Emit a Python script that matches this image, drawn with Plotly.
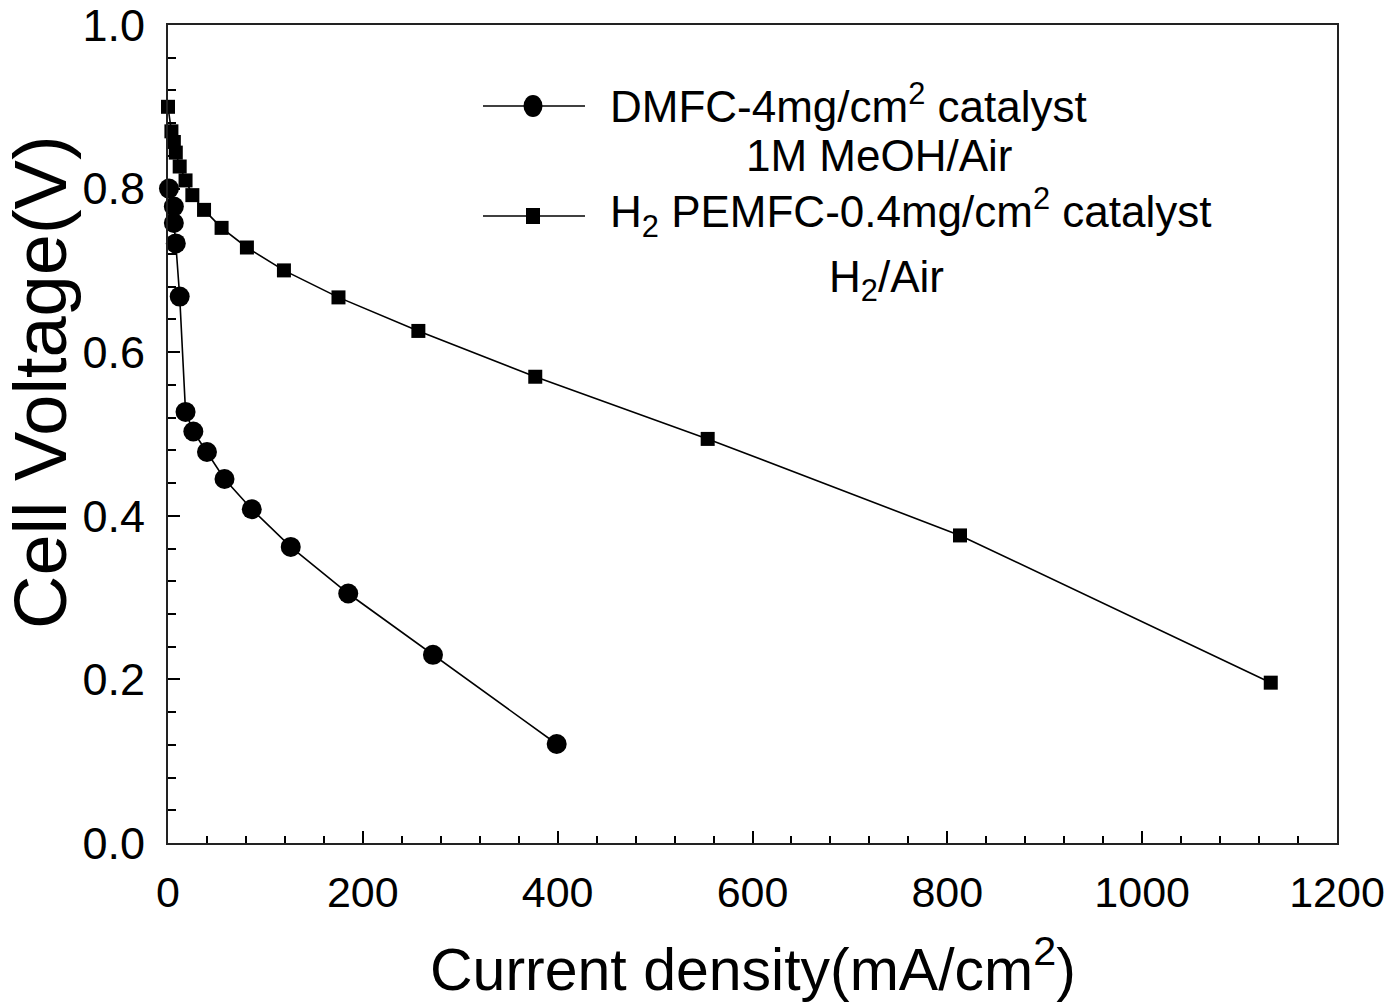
import plotly.graph_objects as go

# DMFC data (circles)
dmfc_x = [1, 6, 6, 8, 12, 18, 26, 40, 58, 86, 126, 185, 272, 399]
dmfc_y = [0.800, 0.778, 0.758, 0.733, 0.668, 0.527, 0.503, 0.478, 0.445, 0.408, 0.362, 0.305, 0.230, 0.121]

# H2 PEMFC data (squares)
pem_x = [0, 3.5, 6, 8, 12, 18, 25, 37, 55, 81, 119, 175, 257, 377, 554, 813, 1132]
pem_y = [0.900, 0.870, 0.857, 0.844, 0.827, 0.810, 0.792, 0.774, 0.752, 0.728, 0.700, 0.667, 0.626, 0.570, 0.494, 0.376, 0.196]

x_ticks = [0, 200, 400, 600, 800, 1000, 1200]
y_ticks = [0.0, 0.2, 0.4, 0.6, 0.8, 1.0]
y_tick_labels = ["0.0", "0.2", "0.4", "0.6", "0.8", "1.0"]

legend_names = ["DMFC-4mg/cm<sup>2</sup> catalyst", "H<sub>2</sub> PEMFC-0.4mg/cm<sup>2</sup> catalyst"]
legend_sub = ["1M MeOH/Air", "H<sub>2</sub>/Air"]

FONT = "Liberation Sans, Arial, sans-serif"

W, H = 1391, 1004
L, R, T, B = 168, 54, 25, 161
pw = W - L - R
ph = H - T - B


def px2x(px):
    return (px - L) / pw


def px2y(py):
    return (H - B - py) / ph


fig = go.Figure()
fig.add_trace(go.Scatter(x=dmfc_x, y=dmfc_y, mode="lines+markers",
                         line=dict(color="black", width=1.6),
                         marker=dict(symbol="circle", size=20, color="black"),
                         cliponaxis=False, showlegend=False))
fig.add_trace(go.Scatter(x=pem_x, y=pem_y, mode="lines+markers",
                         line=dict(color="black", width=1.6),
                         marker=dict(symbol="square", size=14, color="black"),
                         cliponaxis=False, showlegend=False))

shapes = []
annotations = []
# legend entry 1
ly1 = px2y(106)
shapes.append(dict(type="line", xref="paper", yref="paper", x0=px2x(483), x1=px2x(585), y0=ly1, y1=ly1,
                   line=dict(color="black", width=1.6)))
cx = px2x(533)
shapes.append(dict(type="circle", xref="paper", yref="paper", x0=cx - 9.5 / pw, x1=cx + 9.5 / pw,
                   y0=ly1 - 11 / ph, y1=ly1 + 11 / ph, fillcolor="black", line=dict(color="black", width=0)))
# legend entry 2
ly2 = px2y(216)
shapes.append(dict(type="line", xref="paper", yref="paper", x0=px2x(483), x1=px2x(585), y0=ly2, y1=ly2,
                   line=dict(color="black", width=1.6)))
shapes.append(dict(type="rect", xref="paper", yref="paper", x0=cx - 7 / pw, x1=cx + 7 / pw,
                   y0=ly2 - 8 / ph, y1=ly2 + 8 / ph, fillcolor="black", line=dict(color="black", width=0)))

lf = dict(family=FONT, size=44, color="black")
annotations.append(dict(text=legend_names[0], xref="paper", yref="paper", x=px2x(608), y=px2y(104),
                        xanchor="left", yanchor="middle", showarrow=False, font=lf))
annotations.append(dict(text=legend_sub[0], xref="paper", yref="paper", x=px2x(879), y=px2y(155),
                        xanchor="center", yanchor="middle", showarrow=False, font=lf))
annotations.append(dict(text=legend_names[1], xref="paper", yref="paper", x=px2x(608), y=px2y(212),
                        xanchor="left", yanchor="middle", showarrow=False, font=lf))
annotations.append(dict(text=legend_sub[1], xref="paper", yref="paper", x=px2x(886), y=px2y(280),
                        xanchor="center", yanchor="middle", showarrow=False, font=lf))
# axis titles
annotations.append(dict(text="Cell Voltage(V)", xref="paper", yref="paper", x=px2x(40), y=px2y(382),
                        xanchor="center", yanchor="middle", textangle=-90, showarrow=False,
                        font=dict(family=FONT, size=74, color="black")))
annotations.append(dict(text="Current density(mA/cm<sup>2</sup>)", xref="paper", yref="paper", x=px2x(753), y=px2y(965),
                        xanchor="center", yanchor="middle", showarrow=False,
                        font=dict(family=FONT, size=59, color="black")))

axis_common = dict(showgrid=False, zeroline=False, showline=True, linecolor="#222", linewidth=2,
                   mirror=True, ticks="inside", ticklen=12, tickwidth=1.5, tickcolor="black",
                   automargin=False, ticklabeloverflow="allow")

fig.update_xaxes(range=[0, 1200], tickvals=x_ticks, ticktext=[str(v) for v in x_ticks],
                 tickfont=dict(family=FONT, size=43, color="black"), ticklabelstandoff=10,
                 minor=dict(ticks="inside", ticklen=7, tickwidth=1.5, tickcolor="black", dtick=40, tick0=0),
                 **axis_common)
fig.update_yaxes(range=[0, 1.0], tickvals=y_ticks, ticktext=y_tick_labels,
                 tickfont=dict(family=FONT, size=45, color="black"), ticklabelstandoff=12,
                 minor=dict(ticks="inside", ticklen=8, tickwidth=1.5, tickcolor="black", dtick=0.04, tick0=0),
                 **axis_common)

fig.update_layout(width=W, height=H, margin=dict(l=L, r=R, t=T, b=B, autoexpand=False),
                  paper_bgcolor="white", plot_bgcolor="white",
                  shapes=shapes, annotations=annotations, showlegend=False,
                  font=dict(family=FONT, color="black"))

fig.write_html("out.html")
